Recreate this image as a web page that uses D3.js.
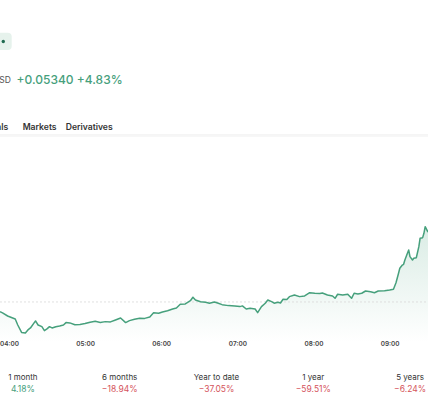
<!DOCTYPE html>
<html>
<head>
<meta charset="utf-8">
<script src="https://cdn.jsdelivr.net/npm/d3@7"></script>
<style>
  html, body { margin: 0; padding: 0; background: #fff; }
  svg { display: block; font-family: Inter, "Noto Sans", sans-serif; }
</style>
</head>
<body>
<div id="chart"></div>
<script>
// price series (time of day, price in USD)
const times = [
  "03:53","03:55","03:59","04:03","04:05","04:07","04:10","04:13","04:15","04:17",
  "04:20","04:21","04:23","04:26","04:28","04:30","04:32","04:34","04:37","04:40",
  "04:43","04:45","04:48","04:52","04:56","05:00","05:04","05:08","05:12","05:16",
  "05:20","05:24","05:28","05:32","05:35","05:39","05:43","05:47","05:51","05:54",
  "05:58","06:01","06:05","06:09","06:12","06:15","06:19","06:23","06:25","06:27",
  "06:31","06:35","06:38","06:42","06:45","06:48","06:53","06:58","07:02","07:04",
  "07:07","07:10","07:14","07:16","07:19","07:22","07:24","07:27","07:29","07:32",
  "07:34","07:36","07:39","07:41","07:45","07:49","07:53","07:57","08:01","08:05",
  "08:07","08:11","08:15","08:17","08:19","08:23","08:27","08:30","08:32","08:35",
  "08:38","08:41","08:45","08:48","08:51","08:56","09:00","09:03","09:05","09:07",
  "09:08","09:10","09:11","09:12","09:14","09:15","09:16","09:18","09:19","09:21",
  "09:23","09:24","09:26","09:27","09:28","09:30","09:31"
];
const prices = [
  1.0987,1.0978,1.0956,1.0942,1.0935,1.0892,1.0839,1.0835,1.0857,1.0871,
  1.0909,1.0921,1.0892,1.0880,1.0852,1.0864,1.0880,1.0871,1.0880,1.0885,
  1.0892,1.0909,1.0907,1.0894,1.0896,1.0902,1.0912,1.0919,1.0910,1.0916,
  1.0914,1.0928,1.0942,1.0909,1.0923,1.0933,1.0940,1.0939,1.0949,1.0980,
  1.0976,1.0985,1.0994,1.1006,1.1013,1.1040,1.1042,1.1065,1.1090,1.1070,
  1.1058,1.1054,1.1047,1.1056,1.1047,1.1037,1.1030,1.1028,1.1023,1.1028,
  1.1006,1.1011,1.1006,1.0980,1.1023,1.1047,1.1070,1.1058,1.1047,1.1054,
  1.1049,1.1075,1.1074,1.1094,1.1106,1.1094,1.1099,1.1122,1.1118,1.1117,
  1.1120,1.1106,1.1099,1.1082,1.1111,1.1106,1.1111,1.1082,1.1118,1.1113,
  1.1118,1.1134,1.1129,1.1122,1.1134,1.1136,1.1141,1.1146,1.1193,1.1260,
  1.1296,1.1319,1.1324,1.1355,1.1403,1.1426,1.1379,1.1355,1.1367,1.1371,
  1.1450,1.1510,1.1514,1.1545,1.1592,1.1557,1.1569
];
const openPrice = 1.1056;

const changeText = "+0.05340 +4.83%";
const tabs = ["als", "Markets", "Derivatives"];

const periods = ["1 month", "6 months", "Year to date", "1 year", "5 years"];
const periodChanges = [4.18, -18.94, -37.05, -59.51, -6.24];

const width = 428, height = 400;
const green = "#46a07c", red = "#d5545c";

const parseTime = d3.timeParse("%H:%M");
const data = times.map((t, i) => ({ t: parseTime(t), p: prices[i] }));

const svg = d3.select("#chart").append("svg")
  .attr("width", width)
  .attr("height", height);

// header: badge, change line, tabs
svg.append("rect")
  .attr("x", -6).attr("y", 32.7)
  .attr("width", 17.7).attr("height", 17.3)
  .attr("rx", 4)
  .attr("fill", "#e6f2ec");
svg.append("circle")
  .attr("cx", 3.3).attr("cy", 41.5).attr("r", 1.7)
  .attr("fill", "#1f6b50");

svg.append("text")
  .attr("x", -7).attr("y", 82.5)
  .attr("font-size", 8.5).attr("fill", "#555")
  .text("USD");
svg.append("text")
  .attr("x", 16.5).attr("y", 83.5)
  .attr("font-size", 12).attr("font-weight", 500)
  .attr("fill", green)
  .text(changeText);

const tabX = [-3.8, 22.7, 65.7];
svg.selectAll(".tab")
  .data(tabs)
  .enter()
  .append("text")
  .attr("class", "tab")
  .attr("x", (d, i) => tabX[i])
  .attr("y", 129.8)
  .attr("font-size", 8.6).attr("font-weight", 600)
  .attr("fill", "#333")
  .text(d => d);

svg.append("rect")
  .attr("x", 0).attr("y", 134.5).attr("width", width).attr("height", 1)
  .attr("fill", "#ececec");
svg.append("rect")
  .attr("x", 0).attr("y", 135.5).attr("width", width).attr("height", 1.5)
  .attr("fill", "#f7f7f7");

// scales
const x = d3.scaleTime()
  .domain(d3.extent(data, d => d.t))
  .range([0, 429]);
const y = d3.scaleLinear()
  .domain(d3.extent(data, d => d.p))
  .range([333, 226.7]);

// area gradient
const defs = svg.append("defs");
const grad = defs.append("linearGradient")
  .attr("id", "areaFill")
  .attr("gradientUnits", "userSpaceOnUse")
  .attr("x1", 0).attr("x2", 0)
  .attr("y1", y.range()[1]).attr("y2", 342);
grad.append("stop").attr("offset", "0%").attr("stop-color", green).attr("stop-opacity", 0.2);
grad.append("stop").attr("offset", "100%").attr("stop-color", green).attr("stop-opacity", 0);

svg.append("path")
  .datum(data)
  .attr("fill", "url(#areaFill)")
  .attr("d", d3.area().x(d => x(d.t)).y0(342).y1(d => y(d.p)));

// open price reference line
svg.append("line")
  .attr("x1", 0).attr("x2", width)
  .attr("y1", y(openPrice)).attr("y2", y(openPrice))
  .attr("stroke", "#d8d8d8")
  .attr("stroke-width", 0.8)
  .attr("stroke-dasharray", "2,2");

svg.append("path")
  .datum(data)
  .attr("fill", "none")
  .attr("stroke", green)
  .attr("stroke-width", 1.5)
  .attr("stroke-linejoin", "round")
  .attr("d", d3.line().x(d => x(d.t)).y(d => y(d.p)));

// time axis
const axis = svg.append("g")
  .attr("transform", "translate(0,340)")
  .call(d3.axisBottom(x)
    .ticks(d3.timeHour.every(1))
    .tickFormat(d3.timeFormat("%H:%M"))
    .tickSize(0));
axis.select(".domain").remove();
axis.selectAll("text")
  .attr("dy", 0)
  .attr("y", 6.2)
  .attr("font-family", "Inter, 'Noto Sans', sans-serif")
  .attr("font-size", 6.4)
  .attr("font-weight", 600)
  .attr("fill", "#444");

// period performance row
const col = d3.scaleBand()
  .domain(periods)
  .range([-25.5, 458.5]);

svg.selectAll(".period")
  .data(periods)
  .enter()
  .append("text")
  .attr("class", "period")
  .attr("x", d => col(d) + col.bandwidth() / 2)
  .attr("y", 380.3)
  .attr("text-anchor", "middle")
  .attr("font-size", 8)
  .attr("fill", "#333")
  .text(d => d);

svg.selectAll(".change")
  .data(periodChanges)
  .enter()
  .append("text")
  .attr("class", "change")
  .attr("x", (d, i) => col(periods[i]) + col.bandwidth() / 2)
  .attr("y", 391.6)
  .attr("text-anchor", "middle")
  .attr("font-size", 8.5)
  .attr("fill", d => d >= 0 ? green : red)
  .text(d => (d < 0 ? "\u2212" : "") + Math.abs(d).toFixed(2) + "%");
</script>
</body>
</html>
